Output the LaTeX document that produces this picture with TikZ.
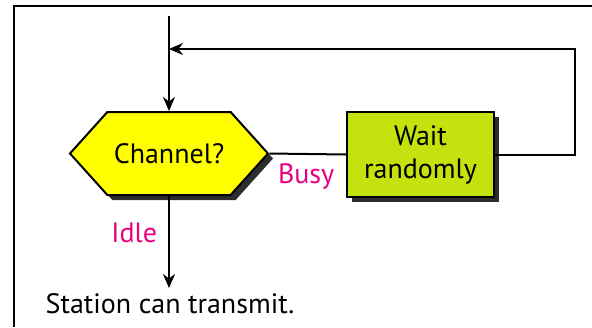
\documentclass[tikz,border=0pt]{standalone}
\usepackage{fontspec}
\setmainfont{PT Sans}
\usetikzlibrary{arrows.meta,shapes.symbols,shadows}
\definecolor{hexfill}{RGB}{255,255,0}
\definecolor{boxfill}{RGB}{196,226,14}
\definecolor{labelpink}{RGB}{232,0,128}
\definecolor{shadowgray}{RGB}{45,45,45}
\begin{document}
\begin{tikzpicture}[x=1pt,y=-1pt,
  line width=2pt,
  every node/.style={font=\fontsize{28}{33}\selectfont},
  tip/.style={-{Stealth[length=14pt,width=12pt,inset=4.5pt]}},
  shade3d/.style={drop shadow={shadow xshift=5pt,shadow yshift=-5pt,fill=shadowgray,opacity=1}},
  decision/.style={shape=signal,signal to=west and east,signal pointer angle=96,
    draw,fill=hexfill,shade3d,minimum width=198pt,minimum height=83pt,inner sep=0pt},
  action/.style={draw,fill=boxfill,shade3d,minimum width=147pt,minimum height=85pt,
    inner sep=0pt,align=center},
  cond/.style={text=labelpink,inner sep=0pt}]
  % page extent and the frame corner
  \useasboundingbox (0,0) rectangle (592,327);
  \draw (14,327) -- (14,6) -- (592,6);
  % nodes
  \node[decision] (chan) at (169,153.5) {Channel?};
  \node[action] (wait) at (420.5,154.5) {Wait\\randomly};
  \node[inner sep=0pt,anchor=base] (tx) at (170,313) {Station can transmit.};
  \node[cond,anchor=base east] (idle) at (158,242) {Idle};
  \node[cond,anchor=base west] (busy) at (277,183) {Busy};
  % helper points on the loop
  \coordinate (start) at (169,16);
  \coordinate (join) at (169,49);
  \coordinate (c1) at (575,154.5);
  \coordinate (c2) at (575,49);
  \coordinate (txtop) at (169,288);
  % connectors
  \draw[tip] (start) -- (chan.north);
  \draw (chan.east) -- (wait.west);
  \draw[tip] (wait.east) -- (c1) -- (c2) -- (join);
  \draw[tip] (chan.south) -- (txtop);
\end{tikzpicture}
\end{document}
